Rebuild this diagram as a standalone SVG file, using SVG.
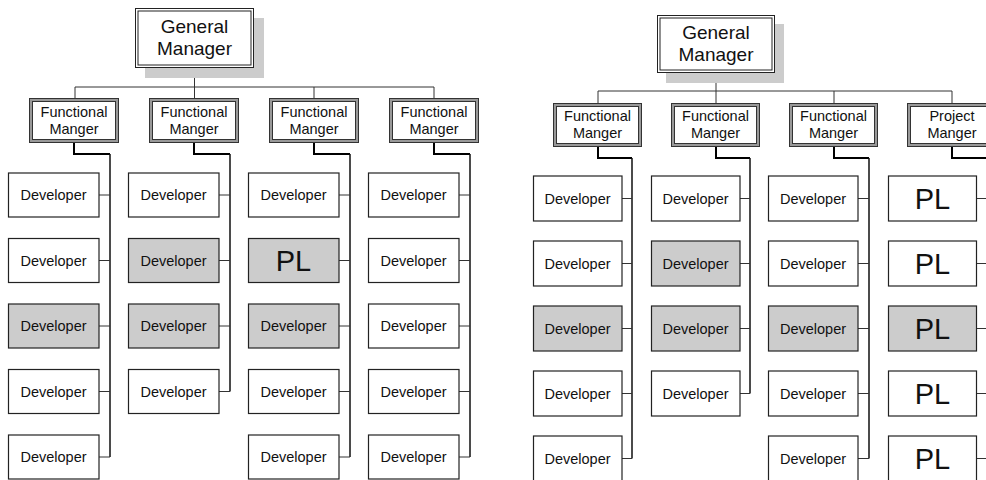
<svg xmlns="http://www.w3.org/2000/svg" width="986" height="480" viewBox="0 0 986 480">
<style>
text{font-family:"Liberation Sans",Arial,sans-serif;fill:#111;text-anchor:middle}
.gmt{font-size:19px}
.fmt{font-size:14.5px}
.dt{font-size:14.5px}
.pl{font-size:29px}
.shadow{fill:#cccccc}
.gmo{fill:#fff;stroke:#222;stroke-width:1}
.gmi{fill:none;stroke:#222;stroke-width:1}
.fmb{fill:#fff;stroke:#999;stroke-width:3}
.fml{fill:none;stroke:#333;stroke-width:1}
.dev{fill:#fff;stroke:#222;stroke-width:1.2}
.hl{fill:#cccccc}
.top{fill:none;stroke:#333;stroke-width:1}
.fmc{fill:none;stroke:#000;stroke-width:2}
.spine{fill:none;stroke:#111;stroke-width:1.5}
.br{fill:none;stroke:#333;stroke-width:1}
</style>

<g id="connectors">
  <!-- left chart -->
  <path class="top" d="M194.5,68 V87 M75,87 H434 M75,87 V98 M194.5,87 V98 M314,87 V98 M434,87 V98"/>
  <path class="fmc" d="M74,143 V154 H110 M194,143 V154 H230 M314,143 V154 H350 M434,143 V154 H470"/>
  <path class="spine" d="M110,154 V457 M230,154 V391.5 M350,154 V457 M470,154 V457"/>
  <path class="br" d="M99,195 H110 M99,260.5 H110 M99,326 H110 M99,391.5 H110 M99,457 H110
    M219,195 H230 M219,260.5 H230 M219,326 H230 M219,391.5 H230
    M339,195 H350 M339,260.5 H350 M339,326 H350 M339,391.5 H350 M339,457 H350
    M459,195 H470 M459,260.5 H470 M459,326 H470 M459,391.5 H470 M459,457 H470"/>
  <!-- right chart -->
  <path class="top" d="M716,73 V91 M598,91 H952 M598,91 V103 M716,91 V103 M834,91 V103 M952,91 V103"/>
  <path class="fmc" d="M598,147 V158 H632 M716,147 V158 H750 M834,147 V158 H869 M952,147 V158 H990"/>
  <path class="spine" d="M632,158 V458.5 M750,158 V393.5 M869,158 V458.5"/>
  <path class="br" d="M622,198.5 H632 M622,263.5 H632 M622,328.5 H632 M622,393.5 H632 M622,458.5 H632
    M740,198.5 H750 M740,263.5 H750 M740,328.5 H750 M740,393.5 H750
    M858,198.5 H869 M858,263.5 H869 M858,328.5 H869 M858,393.5 H869 M858,458.5 H869
    M977,198.5 H990 M977,263.5 H990 M977,328.5 H990 M977,393.5 H990 M977,458.5 H990"/>
</g>

<!-- LEFT CHART -->
<g id="gm-left">
  <rect class="shadow" x="145" y="18" width="119" height="60"/>
  <rect class="gmo" x="135.5" y="8.5" width="118" height="59"/>
  <rect class="gmi" x="138" y="11" width="113" height="54"/>
  <text class="gmt" x="194.5" y="33">General</text>
  <text class="gmt" x="194.5" y="55">Manager</text>
</g>

<g id="fm-l1">
  <rect class="fmb" x="31" y="100" width="86" height="41"/>
  <rect class="fml" x="29.5" y="98.5" width="89" height="44"/>
  <rect class="fml" x="32.5" y="101.5" width="83" height="38"/>
  <text class="fmt" x="74" y="117">Functional</text>
  <text class="fmt" x="74" y="134">Manger</text>
</g>
<g id="fm-l2">
  <rect class="fmb" x="151" y="100" width="86" height="41"/>
  <rect class="fml" x="149.5" y="98.5" width="89" height="44"/>
  <rect class="fml" x="152.5" y="101.5" width="83" height="38"/>
  <text class="fmt" x="194" y="117">Functional</text>
  <text class="fmt" x="194" y="134">Manger</text>
</g>
<g id="fm-l3">
  <rect class="fmb" x="271" y="100" width="86" height="41"/>
  <rect class="fml" x="269.5" y="98.5" width="89" height="44"/>
  <rect class="fml" x="272.5" y="101.5" width="83" height="38"/>
  <text class="fmt" x="314" y="117">Functional</text>
  <text class="fmt" x="314" y="134">Manger</text>
</g>
<g id="fm-l4">
  <rect class="fmb" x="391" y="100" width="86" height="41"/>
  <rect class="fml" x="389.5" y="98.5" width="89" height="44"/>
  <rect class="fml" x="392.5" y="101.5" width="83" height="38"/>
  <text class="fmt" x="434" y="117">Functional</text>
  <text class="fmt" x="434" y="134">Manger</text>
</g>

<!-- column 1 -->
<g id="l-c1-r1"><rect class="dev" x="8.5" y="173" width="90.5" height="44"/><text class="dt" x="53.5" y="200">Developer</text></g>
<g id="l-c1-r2"><rect class="dev" x="8.5" y="238.5" width="90.5" height="44"/><text class="dt" x="53.5" y="265.5">Developer</text></g>
<g id="l-c1-r3"><rect class="dev hl" x="8.5" y="304" width="90.5" height="44"/><text class="dt" x="53.5" y="331">Developer</text></g>
<g id="l-c1-r4"><rect class="dev" x="8.5" y="369.5" width="90.5" height="44"/><text class="dt" x="53.5" y="396.5">Developer</text></g>
<g id="l-c1-r5"><rect class="dev" x="8.5" y="435" width="90.5" height="44"/><text class="dt" x="53.5" y="462">Developer</text></g>
<!-- column 2 -->
<g id="l-c2-r1"><rect class="dev" x="128.5" y="173" width="90.5" height="44"/><text class="dt" x="173.5" y="200">Developer</text></g>
<g id="l-c2-r2"><rect class="dev hl" x="128.5" y="238.5" width="90.5" height="44"/><text class="dt" x="173.5" y="265.5">Developer</text></g>
<g id="l-c2-r3"><rect class="dev hl" x="128.5" y="304" width="90.5" height="44"/><text class="dt" x="173.5" y="331">Developer</text></g>
<g id="l-c2-r4"><rect class="dev" x="128.5" y="369.5" width="90.5" height="44"/><text class="dt" x="173.5" y="396.5">Developer</text></g>
<!-- column 3 -->
<g id="l-c3-r1"><rect class="dev" x="248.5" y="173" width="90.5" height="44"/><text class="dt" x="293.5" y="200">Developer</text></g>
<g id="l-c3-r2"><rect class="dev hl" x="248.5" y="238.5" width="90.5" height="44"/><text class="pl" x="293.5" y="270.5">PL</text></g>
<g id="l-c3-r3"><rect class="dev hl" x="248.5" y="304" width="90.5" height="44"/><text class="dt" x="293.5" y="331">Developer</text></g>
<g id="l-c3-r4"><rect class="dev" x="248.5" y="369.5" width="90.5" height="44"/><text class="dt" x="293.5" y="396.5">Developer</text></g>
<g id="l-c3-r5"><rect class="dev" x="248.5" y="435" width="90.5" height="44"/><text class="dt" x="293.5" y="462">Developer</text></g>
<!-- column 4 -->
<g id="l-c4-r1"><rect class="dev" x="368.5" y="173" width="90.5" height="44"/><text class="dt" x="413.5" y="200">Developer</text></g>
<g id="l-c4-r2"><rect class="dev" x="368.5" y="238.5" width="90.5" height="44"/><text class="dt" x="413.5" y="265.5">Developer</text></g>
<g id="l-c4-r3"><rect class="dev" x="368.5" y="304" width="90.5" height="44"/><text class="dt" x="413.5" y="331">Developer</text></g>
<g id="l-c4-r4"><rect class="dev" x="368.5" y="369.5" width="90.5" height="44"/><text class="dt" x="413.5" y="396.5">Developer</text></g>
<g id="l-c4-r5"><rect class="dev" x="368.5" y="435" width="90.5" height="44"/><text class="dt" x="413.5" y="462">Developer</text></g>

<!-- RIGHT CHART -->
<g id="gm-right">
  <rect class="shadow" x="666" y="24" width="118" height="59"/>
  <rect class="gmo" x="657.5" y="15.5" width="117" height="57"/>
  <rect class="gmi" x="660" y="18" width="112" height="52"/>
  <text class="gmt" x="716" y="38.5">General</text>
  <text class="gmt" x="716" y="61">Manager</text>
</g>

<g id="fm-r1">
  <rect class="fmb" x="555" y="105" width="85" height="40"/>
  <rect class="fml" x="553.5" y="103.5" width="88" height="43"/>
  <rect class="fml" x="556.5" y="106.5" width="82" height="37"/>
  <text class="fmt" x="597.5" y="121">Functional</text>
  <text class="fmt" x="597.5" y="138">Manger</text>
</g>
<g id="fm-r2">
  <rect class="fmb" x="673" y="105" width="85" height="40"/>
  <rect class="fml" x="671.5" y="103.5" width="88" height="43"/>
  <rect class="fml" x="674.5" y="106.5" width="82" height="37"/>
  <text class="fmt" x="715.5" y="121">Functional</text>
  <text class="fmt" x="715.5" y="138">Manger</text>
</g>
<g id="fm-r3">
  <rect class="fmb" x="791" y="105" width="85" height="40"/>
  <rect class="fml" x="789.5" y="103.5" width="88" height="43"/>
  <rect class="fml" x="792.5" y="106.5" width="82" height="37"/>
  <text class="fmt" x="833.5" y="121">Functional</text>
  <text class="fmt" x="833.5" y="138">Manger</text>
</g>
<g id="pm-r4">
  <rect class="fmb" x="909" y="105" width="85" height="40"/>
  <rect class="fml" x="907.5" y="103.5" width="88" height="43"/>
  <rect class="fml" x="910.5" y="106.5" width="82" height="37"/>
  <text class="fmt" x="952" y="121">Project</text>
  <text class="fmt" x="952" y="138">Manger</text>
</g>

<!-- right column 1 -->
<g id="r-c1-r1"><rect class="dev" x="533.5" y="176" width="88.5" height="45"/><text class="dt" x="577.5" y="203.5">Developer</text></g>
<g id="r-c1-r2"><rect class="dev" x="533.5" y="241" width="88.5" height="45"/><text class="dt" x="577.5" y="268.5">Developer</text></g>
<g id="r-c1-r3"><rect class="dev hl" x="533.5" y="306" width="88.5" height="45"/><text class="dt" x="577.5" y="333.5">Developer</text></g>
<g id="r-c1-r4"><rect class="dev" x="533.5" y="371" width="88.5" height="45"/><text class="dt" x="577.5" y="398.5">Developer</text></g>
<g id="r-c1-r5"><rect class="dev" x="533.5" y="436" width="88.5" height="45"/><text class="dt" x="577.5" y="463.5">Developer</text></g>
<!-- right column 2 -->
<g id="r-c2-r1"><rect class="dev" x="651.5" y="176" width="88.5" height="45"/><text class="dt" x="695.5" y="203.5">Developer</text></g>
<g id="r-c2-r2"><rect class="dev hl" x="651.5" y="241" width="88.5" height="45"/><text class="dt" x="695.5" y="268.5">Developer</text></g>
<g id="r-c2-r3"><rect class="dev hl" x="651.5" y="306" width="88.5" height="45"/><text class="dt" x="695.5" y="333.5">Developer</text></g>
<g id="r-c2-r4"><rect class="dev" x="651.5" y="371" width="88.5" height="45"/><text class="dt" x="695.5" y="398.5">Developer</text></g>
<!-- right column 3 -->
<g id="r-c3-r1"><rect class="dev" x="768.5" y="176" width="89.5" height="45"/><text class="dt" x="813" y="203.5">Developer</text></g>
<g id="r-c3-r2"><rect class="dev" x="768.5" y="241" width="89.5" height="45"/><text class="dt" x="813" y="268.5">Developer</text></g>
<g id="r-c3-r3"><rect class="dev hl" x="768.5" y="306" width="89.5" height="45"/><text class="dt" x="813" y="333.5">Developer</text></g>
<g id="r-c3-r4"><rect class="dev" x="768.5" y="371" width="89.5" height="45"/><text class="dt" x="813" y="398.5">Developer</text></g>
<g id="r-c3-r5"><rect class="dev" x="768.5" y="436" width="89.5" height="45"/><text class="dt" x="813" y="463.5">Developer</text></g>
<!-- right column 4 (PL) -->
<g id="r-c4-r1"><rect class="dev" x="888.5" y="176" width="88" height="45"/><text class="pl" x="932.5" y="208.5">PL</text></g>
<g id="r-c4-r2"><rect class="dev" x="888.5" y="241" width="88" height="45"/><text class="pl" x="932.5" y="273.5">PL</text></g>
<g id="r-c4-r3"><rect class="dev hl" x="888.5" y="306" width="88" height="45"/><text class="pl" x="932.5" y="338.5">PL</text></g>
<g id="r-c4-r4"><rect class="dev" x="888.5" y="371" width="88" height="45"/><text class="pl" x="932.5" y="403.5">PL</text></g>
<g id="r-c4-r5"><rect class="dev" x="888.5" y="436" width="88" height="45"/><text class="pl" x="932.5" y="468.5">PL</text></g>
</svg>
